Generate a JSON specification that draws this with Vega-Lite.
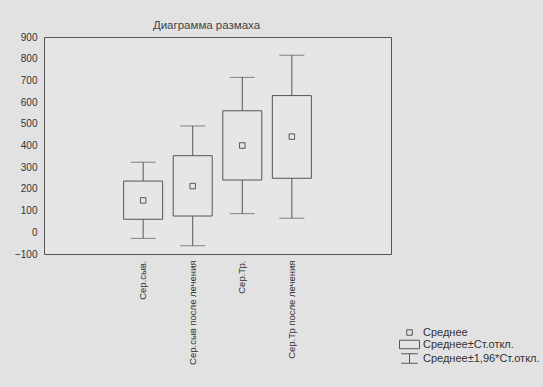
{
  "$schema": "https://vega.github.io/schema/vega-lite/v6.json",
  "width": 347,
  "height": 217,
  "autosize": {"type": "none"},
  "padding": {"left": 44, "top": 37, "right": 152, "bottom": 133},
  "background": "#e2e2e2",
  "title": {"text": "Диаграмма размаха", "fontSize": 11.5, "font": "Liberation Sans", "fontWeight": "normal", "color": "#444", "offset": 1, "dx": -11},
  "config": {
    "font": "Liberation Sans",
    "view": {"stroke": "#555", "strokeWidth": 1, "fill": "#e6e6e6"},
    "axis": {"grid": false, "domain": false, "ticks": false, "labelColor": "#333", "labelFont": "Liberation Sans", "title": null}
  },
  "data": {
    "values": [
      {"cat": "Сер.сыв.", "mean": 147, "box_lo": 60, "box_hi": 236, "wh_lo": -28, "wh_hi": 323},
      {"cat": "Сер.сыв после лечения", "mean": 213, "box_lo": 75, "box_hi": 353, "wh_lo": -62, "wh_hi": 490},
      {"cat": "Сер.Тр.", "mean": 400, "box_lo": 241, "box_hi": 560, "wh_lo": 86, "wh_hi": 714},
      {"cat": "Сер.Тр после лечения", "mean": 441, "box_lo": 249, "box_hi": 630, "wh_lo": 65, "wh_hi": 816}
    ]
  },
  "encoding": {
    "x": {
      "field": "cat", "type": "nominal", "sort": null,
      "scale": {"type": "band", "domain": [" ", "Сер.сыв.", "Сер.сыв после лечения", "Сер.Тр.", "Сер.Тр после лечения", "  "], "paddingInner": 0, "paddingOuter": 0.5},
      "axis": {"labelAngle": -90, "labelFontSize": 9.5, "labelPadding": 6}
    }
  },
  "layer": [
    {
      "mark": {"type": "rule", "color": "#555", "strokeWidth": 1},
      "encoding": {
        "y": {"field": "wh_lo", "type": "quantitative", "scale": {"domain": [-100, 900], "nice": false, "zero": false}, "axis": {"tickCount": 10, "labelFontSize": 10, "labelPadding": 7}},
        "y2": {"field": "box_lo"}
      }
    },
    {
      "mark": {"type": "rule", "color": "#555", "strokeWidth": 1},
      "encoding": {
        "y": {"field": "box_hi", "type": "quantitative"},
        "y2": {"field": "wh_hi"}
      }
    },
    {
      "mark": {"type": "bar", "size": 39, "fillOpacity": 0, "stroke": "#555", "strokeWidth": 1},
      "encoding": {
        "y": {"field": "box_lo", "type": "quantitative"},
        "y2": {"field": "box_hi"}
      }
    },
    {
      "mark": {"type": "tick", "size": 25, "thickness": 1, "color": "#555"},
      "encoding": {"y": {"field": "wh_lo", "type": "quantitative"}}
    },
    {
      "mark": {"type": "tick", "size": 25, "thickness": 1, "color": "#555"},
      "encoding": {"y": {"field": "wh_hi", "type": "quantitative"}}
    },
    {
      "mark": {"type": "point", "filled": false, "size": 100, "stroke": "#555", "strokeWidth": 1, "opacity": 1},
      "encoding": {
        "y": {"field": "mean", "type": "quantitative"},
        "shape": {
          "datum": "Среднее",
          "type": "nominal",
          "scale": {
            "domain": ["Среднее", "Среднее±Ст.откл.", "Среднее±1,96*Ст.откл."],
            "range": [
              "M-0.55,-0.55H0.55V0.55H-0.55Z",
              "M-2,-0.85H2V0.85H-2Z",
              "M-1.67,-0.95H1.67M0,-0.95V0.95M-1.67,0.95H1.67"
            ]
          },
          "legend": {
            "title": null,
            "orient": "none",
            "legendX": 360,
            "legendY": 290,
            "padding": 0,
            "symbolSize": 100,
            "symbolStrokeColor": "#555",
            "symbolStrokeWidth": 1,
            "symbolFillColor": "transparent",
            "labelFontSize": 11,
            "labelColor": "#333",
            "labelOffset": 8,
            "rowPadding": 0
          }
        }
      }
    }
  ]
}
